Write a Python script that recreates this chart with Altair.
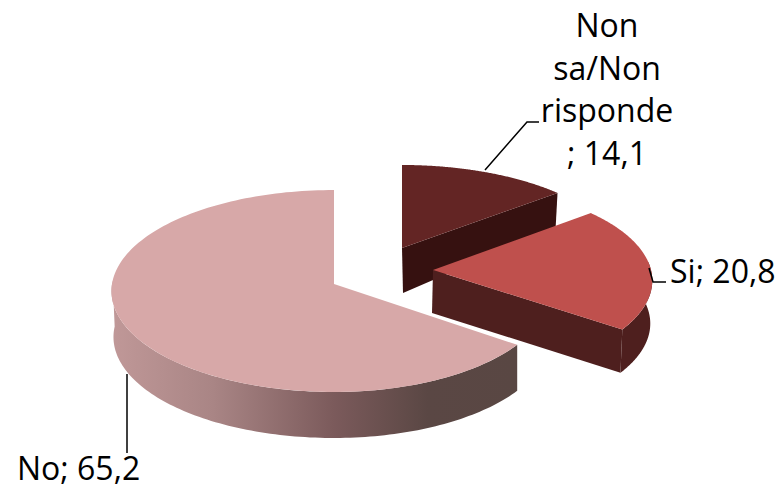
import altair as alt
import numpy as np
import pandas as pd

# Survey answers, in clockwise order from twelve o'clock
categories = ["Non sa/Non risponde", "Si", "No"]
values = [14.1, 20.8, 65.2]
label_lines = ["Non\nsa/Non\nrisponde\n; 14,1", "Si; 20,8", "No; 65,2"]

# Colours of the upper faces and the rims
top_colors = ["#632524", "#bf504d", "#d7a8a8"]
rim_colors = ["#361110", "#4e1f1e", None]
no_rim_stops = [(0.0, "#c09898"), (0.25, "#a98585"), (0.55, "#7b5a5b"), (0.78, "#5a4744"), (1.0, "#594743")]

# Projection of each exploded slice: hub, half axes (left and right of the hub)
# and perspective, for upper and lower face
top_geom = [
    dict(cx=402, cy=248, al=219, ar=219, b=94.8, k=0.142),
    dict(cx=433, cy=270, al=218, ar=218, b=96.0, k=0.108),
    dict(cx=334, cy=284, al=222, ar=216, b=100.5, k=0.0694),
]
low_geom = [
    dict(cx=403, cy=293, al=215, ar=215, b=113.7, k=0.142),
    dict(cx=432, cy=313, al=217, ar=217, b=96.5, k=0.108),
    dict(cx=334, cy=330, al=220, ar=216, b=100.5, k=0.0694),
]

# Label anchors and leader lines
label_x = [607, 670, 17]
label_y = [37, 283, 480]
label_align = ["center", "left", "left"]
leaders = [
    ([485, 527, 539], [170, 122, 122]),
    ([649, 653, 666], [268, 282, 282]),
    ([127, 127], [374, 453]),
]

total = sum(values)
edges = np.cumsum([0] + values) / total * 2 * np.pi


def project(g, t):
    u, v = np.sin(t), np.cos(t)
    w = 1 + g["k"] * v
    a = np.where(u < 0, g["al"], g["ar"])
    return g["cx"] + a * u / w, g["cy"] - g["b"] * v / w


def frame(xs, ys):
    return pd.DataFrame({"x": xs, "y": ys, "i": np.arange(len(xs))})


X = alt.X("x:Q", scale=alt.Scale(domain=[0, 783]), axis=None)
Y = alt.Y("y:Q", scale=alt.Scale(domain=[490, 0]), axis=None)


def filled(df, fill):
    return (
        alt.Chart(df)
        .mark_line(fill=fill, strokeWidth=0, strokeOpacity=0)
        .encode(x=X, y=Y, order=alt.Order("i:Q"))
    )


def top_face(n):
    t = np.linspace(edges[n], edges[n + 1], 160)
    x, y = project(top_geom[n], t)
    g = top_geom[n]
    return frame(np.r_[g["cx"], x], np.r_[g["cy"], y])


def rim(n, t0, t1):
    t = np.linspace(t0, t1, 120)
    x1, y1 = project(top_geom[n], t)
    x2, y2 = project(low_geom[n], t)
    return frame(np.r_[x1, x2[::-1]], np.r_[y1, y2[::-1]])


def cut_face(n):
    # Flat face along the trailing cut of a slice, from hub to outer edge
    t = edges[n + 1]
    x1, y1 = project(top_geom[n], t)
    x2, y2 = project(low_geom[n], t)
    a, b = top_geom[n], low_geom[n]
    return frame([a["cx"], x1, x2, b["cx"]], [a["cy"], y1, y2, b["cy"]])


no_gradient = alt.Gradient(
    gradient="linear",
    x1=0, x2=1, y1=0, y2=0,
    stops=[alt.GradientStop(offset=o, color=c) for o, c in no_rim_stops],
)

layers = [
    # Farthest slice
    filled(cut_face(0), rim_colors[0]),
    filled(top_face(0), top_colors[0]),
    # Middle slice
    filled(cut_face(1), rim_colors[1]),
    filled(rim(1, np.radians(85), edges[2]), rim_colors[1]),
    filled(top_face(1), top_colors[1]),
    # Large slice in front
    filled(rim(2, edges[2], np.radians(272)), no_gradient),
    filled(top_face(2), top_colors[2]),
]

for lx, ly in leaders:
    layers.append(
        alt.Chart(frame(lx, ly))
        .mark_line(color="#000000", strokeWidth=1.5)
        .encode(x=X, y=Y, order=alt.Order("i:Q"))
    )

for n in range(3):
    layers.append(
        alt.Chart(pd.DataFrame({"x": [label_x[n]], "y": [label_y[n]], "t": [label_lines[n]]}))
        .mark_text(
            font="Open Sans", fontSize=32, color="#000000", align=label_align[n],
            baseline="alphabetic", lineBreak="\n", lineHeight=42.7,
        )
        .encode(x=X, y=Y, text="t:N")
    )

chart = (
    alt.layer(*layers)
    .properties(width=783, height=490, padding=0, autosize=alt.AutoSizeParams(type="none"), background="#ffffff")
    .configure_view(stroke=None)
)

chart.save("out.html", embed_options={"renderer": "svg", "actions": False})
